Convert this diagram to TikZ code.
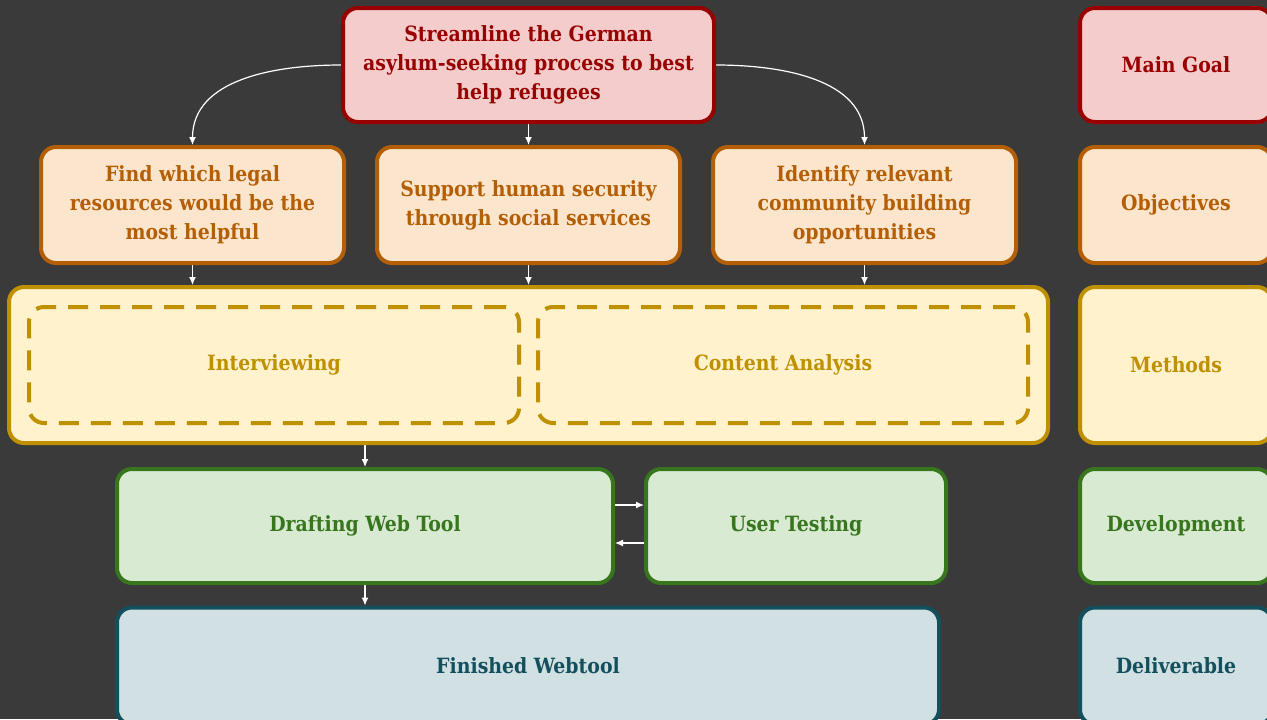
\documentclass[tikz,border=0pt]{standalone}
\usepackage{fontspec}
\setmainfont{DejaVu Serif Condensed}
\usepackage{tikz}
\definecolor{bg}{RGB}{58,58,58}
\definecolor{goalline}{RGB}{153,0,0}
\definecolor{goalfill}{RGB}{244,204,204}
\definecolor{objline}{RGB}{180,95,6}
\definecolor{objfill}{RGB}{252,229,205}
\definecolor{methline}{RGB}{191,144,0}
\definecolor{methfill}{RGB}{255,242,204}
\definecolor{devline}{RGB}{56,118,29}
\definecolor{devfill}{RGB}{217,234,211}
\definecolor{delline}{RGB}{19,79,92}
\definecolor{delfill}{RGB}{208,224,227}
\usetikzlibrary{arrows.meta}
\pgfdeclarelayer{edgelayer}
\pgfdeclarelayer{nodelayer}
\pgfsetlayers{main,edgelayer,nodelayer}
\tikzstyle{box}=[rectangle,rounded corners=7.5pt,line width=2pt,align=center,font=\bfseries\fontsize{10.5}{14.5}\selectfont]
\tikzstyle{goal}=[box,draw=goalline,fill=goalfill,text=goalline]
\tikzstyle{obj}=[box,draw=objline,fill=objfill,text=objline,minimum width=151.5pt,minimum height=58pt]
\tikzstyle{meth}=[box,draw=methline,fill=methfill,text=methline]
\tikzstyle{dev}=[box,draw=devline,fill=devfill,text=devline,minimum height=57pt]
\tikzstyle{deliv}=[box,draw=delline,fill=delfill,text=delline]
\tikzstyle{legend}=[minimum width=96pt]
\tikzstyle{link}=[-{Latex[length=4pt,width=3.5pt]},draw=white,line width=0.6pt]

\begin{document}
\begin{tikzpicture}[x=0.5pt,y=-0.5pt]
        \fill [bg] (0,0) rectangle (1267,719);
        \useasboundingbox (0,0) rectangle (1267,719);
        \begin{pgfonlayer}{nodelayer}
            \node [goal, minimum width=185.5pt, minimum height=57pt] (goal) at (528.5,65) {Streamline the German\\asylum-seeking process to best\\help refugees};

            \node [obj] (obj1) at (192.5,205) {Find which legal\\resources would be the\\most helpful};
            \node [obj] (obj2) at (528.5,205) {Support human security\\through social services};
            \node [obj] (obj3) at (864.5,205) {Identify relevant\\community building\\opportunities};

            \node [meth, minimum width=519.5pt, minimum height=78pt] (methods) at (528.5,365) {};
            \node [meth, dashed, dash pattern=on 10pt off 6pt, fill=none, minimum width=245pt, minimum height=58pt] (interview) at (274,365) {Interviewing};
            \node [meth, dashed, dash pattern=on 10pt off 6pt, fill=none, minimum width=245pt, minimum height=58pt] (content) at (783,365) {Content Analysis};

            \node [dev, minimum width=248pt] (draft) at (365,526) {Drafting Web Tool};
            \node [dev, minimum width=150pt] (usertest) at (796,526) {User Testing};

            \node [deliv, minimum width=411pt, minimum height=58.5pt] (webtool) at (528,666) {Finished Webtool};

            % row labels on the right
            \node [goal, legend, minimum height=57pt] (lgoal) at (1176,65) {Main Goal};
            \node [obj, legend] (lobj) at (1176,205) {Objectives};
            \node [meth, legend, minimum height=78pt] (lmeth) at (1176,365) {Methods};
            \node [dev, legend] (ldev) at (1176,526) {Development};
            \node [deliv, legend, minimum height=58.5pt] (ldeliv) at (1176,666) {Deliverable};
        \end{pgfonlayer}

        \begin{pgfonlayer}{edgelayer}
            \draw [link] (goal.west) to [out=180, in=90] (obj1.north);
            \draw [link] (goal.south) to (obj2.north);
            \draw [link] (goal.east) to [out=0, in=90] (obj3.north);

            \draw [link] (obj1.south) to (obj1.south |- methods.north);
            \draw [link] (obj2.south) to (obj2.south |- methods.north);
            \draw [link] (obj3.south) to (obj3.south |- methods.north);

            \draw [link] (methods.south -| draft.north) to (draft.north);
            \draw [link] ([yshift=10.5pt]draft.east) to ([yshift=10.5pt]draft.east -| usertest.west);
            \draw [link] ([yshift=-8.5pt]usertest.west) to ([yshift=-8.5pt]usertest.west -| draft.east);
            \draw [link] (draft.south) to (draft.south |- webtool.north);
        \end{pgfonlayer}
    \end{tikzpicture}
\end{document}
